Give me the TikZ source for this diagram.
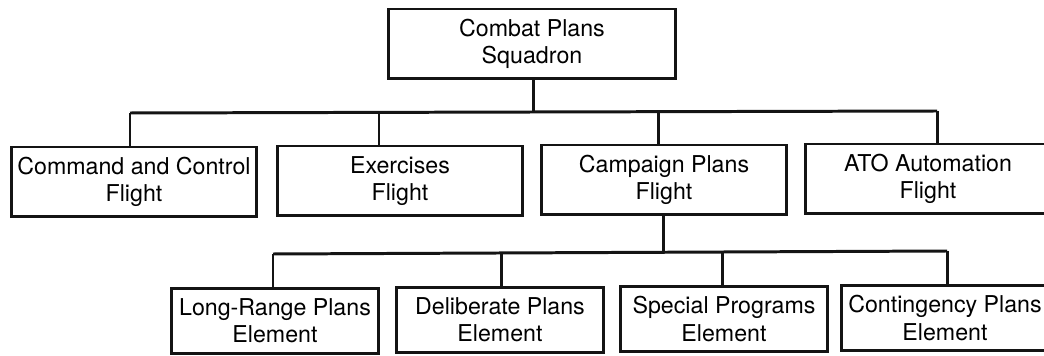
\documentclass[tikz,border=0pt]{standalone}
\usepackage{fontspec}
\setmainfont{TeX Gyre Heros}
\usepackage{tikz}
\usetikzlibrary{positioning,calc}
\definecolor{ink}{RGB}{20,20,20}
\tikzset{
    unit/.style={draw=ink, fill=white, line width=1.7pt, align=center, inner sep=0pt, font=\fontsize{13.2}{15.5}\selectfont},
    squadron/.style={unit, minimum width=5.76cm, minimum height=1.4cm},
    flight/.style={unit, minimum width=4.92cm, minimum height=1.4cm},
    element/.style={unit, minimum width=4.14cm, minimum height=1.3cm},
    wire/.style={draw=ink, line width=1.7pt}
}

\begin{document}
\begin{tikzpicture}[x=0.02cm,y=0.02cm]
\useasboundingbox (0,0) rectangle (1044,355);
% squadron
\node[squadron] (top) at (532,311) {Combat Plans\\Squadron};
% flights
\node[flight] (cc) at (134,173) {Command and Control\\Flight};
\node[flight] (ex) at (400,174) {Exercises\\Flight};
\node[flight] (camp) at (664,175) {Campaign Plans\\Flight};
\node[flight] (ato) at (928,176) {ATO Automation\\Flight};
% elements
\node[element] (lr) at (275,34) {Long-Range Plans\\Element};
\node[element] (del) at (500,35) {Deliberate Plans\\Element};
\node[element] (spec) at (724,36) {Special Programs\\Element};
\node[element] (cont) at (945,37) {Contingency Plans\\Element};
% upper bus
\coordinate (sq) at (533,243);
\coordinate (f1) at (130,242);
\coordinate (f2) at (379,242);
\coordinate (f3) at (658,243);
\coordinate (f4) at (937,244);
\draw[wire] (top.south -| sq) -- (sq);
\draw[wire] (f1) -- (f4);
\foreach \d/\n in {f1/cc,f2/ex,f3/camp,f4/ato}
    \draw[wire] (\d) -- (\d |- \n.north);
% lower bus
\coordinate (cp) at (663,103);
\coordinate (e1) at (273,101);
\coordinate (e2) at (501,102);
\coordinate (e3) at (722,103);
\coordinate (e4) at (947,104);
\draw[wire] (camp.south -| cp) -- (cp);
\draw[wire] (e1) -- (e4);
\foreach \d/\n in {e1/lr,e2/del,e3/spec,e4/cont}
    \draw[wire] (\d) -- (\d |- \n.north);
\end{tikzpicture}
\end{document}
